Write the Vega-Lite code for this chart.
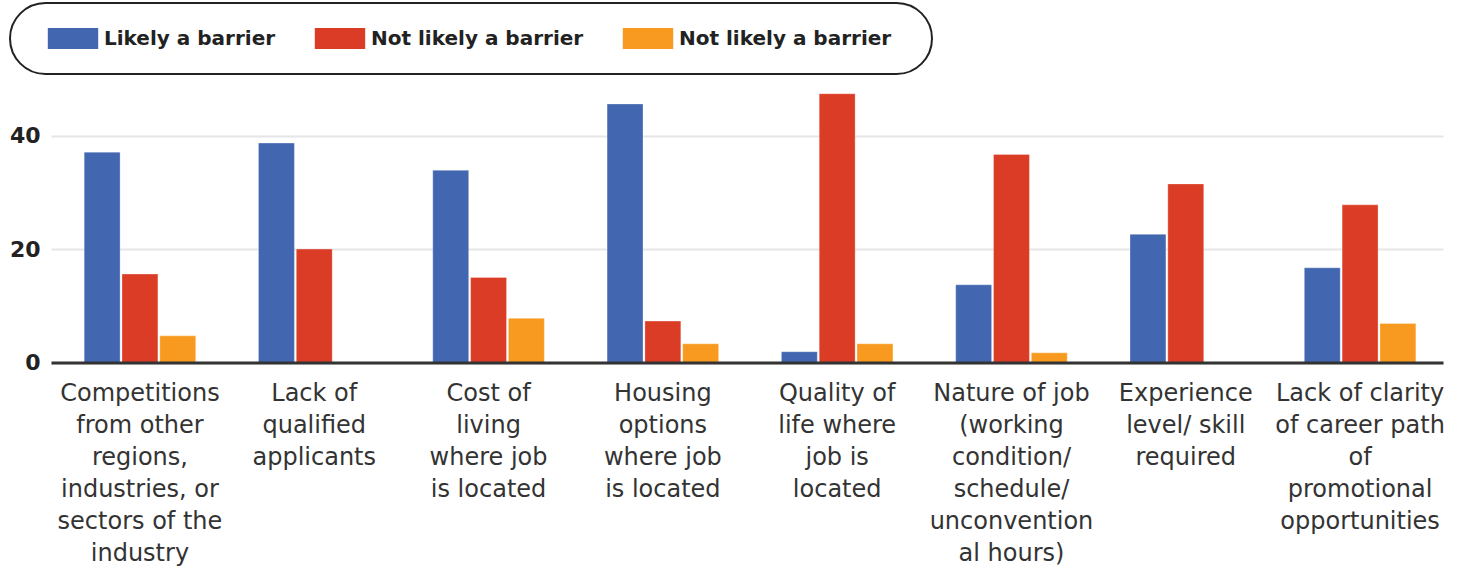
{
  "$schema": "https://vega.github.io/schema/vega-lite/v6.json",
  "width": 1392,
  "height": 283.5,
  "autosize": {"type": "none"},
  "padding": {"left": 51, "top": 79, "right": 27, "bottom": 207.5},
  "background": "white",
  "config": {"view": {"stroke": null}, "font": "DejaVu Sans", "legend": {"strokeWidth": 2}},
  "data": {
    "values": [
      {"barrier": "Competitions from other regions, industries, or sectors of the industry", "series": "Likely a barrier", "value": 37.1},
      {"barrier": "Competitions from other regions, industries, or sectors of the industry", "series": "Not likely a barrier", "value": 15.6},
      {"barrier": "Competitions from other regions, industries, or sectors of the industry", "series": "Not likely a barrier (2)", "value": 4.7},
      {"barrier": "Lack of qualified applicants", "series": "Likely a barrier", "value": 38.7},
      {"barrier": "Lack of qualified applicants", "series": "Not likely a barrier", "value": 20.0},
      {"barrier": "Lack of qualified applicants", "series": "Not likely a barrier (2)", "value": 0},
      {"barrier": "Cost of living where job is located", "series": "Likely a barrier", "value": 33.9},
      {"barrier": "Cost of living where job is located", "series": "Not likely a barrier", "value": 15.0},
      {"barrier": "Cost of living where job is located", "series": "Not likely a barrier (2)", "value": 7.8},
      {"barrier": "Housing options where job is located", "series": "Likely a barrier", "value": 45.6},
      {"barrier": "Housing options where job is located", "series": "Not likely a barrier", "value": 7.3},
      {"barrier": "Housing options where job is located", "series": "Not likely a barrier (2)", "value": 3.3},
      {"barrier": "Quality of life where job is located", "series": "Likely a barrier", "value": 1.9},
      {"barrier": "Quality of life where job is located", "series": "Not likely a barrier", "value": 47.4},
      {"barrier": "Quality of life where job is located", "series": "Not likely a barrier (2)", "value": 3.3},
      {"barrier": "Nature of job (working condition/ schedule/ unconventional hours)", "series": "Likely a barrier", "value": 13.7},
      {"barrier": "Nature of job (working condition/ schedule/ unconventional hours)", "series": "Not likely a barrier", "value": 36.7},
      {"barrier": "Nature of job (working condition/ schedule/ unconventional hours)", "series": "Not likely a barrier (2)", "value": 1.7},
      {"barrier": "Experience level/ skill required", "series": "Likely a barrier", "value": 22.6},
      {"barrier": "Experience level/ skill required", "series": "Not likely a barrier", "value": 31.5},
      {"barrier": "Experience level/ skill required", "series": "Not likely a barrier (2)", "value": 0},
      {"barrier": "Lack of clarity of career path of promotional opportunities", "series": "Likely a barrier", "value": 16.7},
      {"barrier": "Lack of clarity of career path of promotional opportunities", "series": "Not likely a barrier", "value": 27.8},
      {"barrier": "Lack of clarity of career path of promotional opportunities", "series": "Not likely a barrier (2)", "value": 6.9}
    ]
  },
  "mark": {"type": "bar", "stroke": "white", "strokeWidth": 0.5, "strokeOpacity": 0.6},
  "encoding": {
    "x": {
      "field": "barrier",
      "type": "nominal",
      "sort": null,
      "scale": {"paddingInner": 0.36, "paddingOuter": 0.173, "align": 0.55},
      "axis": {
        "title": null,
        "labelAngle": 0,
        "ticks": false,
        "domain": true,
        "domainColor": "#333333",
        "domainWidth": 3,
        "zindex": 1,
        "labelFont": "DejaVu Sans",
        "labelFontSize": 24,
        "labelColor": "#333333",
        "labelLineHeight": 32,
        "labelPadding": 19,
        "labelLimit": 400,
        "labelExpr": "{'Competitions from other regions, industries, or sectors of the industry': ['Competitions', 'from other', 'regions,', 'industries, or', 'sectors of the', 'industry'], 'Lack of qualified applicants': ['Lack of', 'qualified', 'applicants'], 'Cost of living where job is located': ['Cost of', 'living', 'where job', 'is located'], 'Housing options where job is located': ['Housing', 'options', 'where job', 'is located'], 'Quality of life where job is located': ['Quality of', 'life where', 'job is', 'located'], 'Nature of job (working condition/ schedule/ unconventional hours)': ['Nature of job', '(working', 'condition/', 'schedule/', 'unconvention', 'al hours)'], 'Experience level/ skill required': ['Experience', 'level/ skill', 'required'], 'Lack of clarity of career path of promotional opportunities': ['Lack of clarity', 'of career path', 'of', 'promotional', 'opportunities']}[datum.label]"
      }
    },
    "xOffset": {
      "field": "series",
      "type": "nominal",
      "sort": null,
      "scale": {"paddingInner": 0.05, "paddingOuter": 0}
    },
    "y": {
      "field": "value",
      "type": "quantitative",
      "scale": {"domain": [0, 50], "nice": false},
      "axis": {
        "title": null,
        "values": [0, 20, 40],
        "domain": false,
        "ticks": false,
        "gridColor": "#e6e6e6",
        "gridWidth": 2,
        "labelFont": "DejaVu Sans",
        "labelFontWeight": "bold",
        "labelFontSize": 22,
        "labelColor": "#222222",
        "labelPadding": 11
      }
    },
    "color": {
      "field": "series",
      "type": "nominal",
      "sort": null,
      "scale": {
        "domain": ["Likely a barrier", "Not likely a barrier", "Not likely a barrier (2)"],
        "range": ["#4267b0", "#db3c26", "#f89a1f"]
      },
      "legend": {
        "title": "\u00a0",
        "titleOrient": "left",
        "titleFontSize": 20,
        "titlePadding": 27.5,
        "orient": "none",
        "legendX": -41,
        "legendY": -76,
        "direction": "horizontal",
        "strokeColor": "#222222",
        "cornerRadius": 36,
        "padding": 25,
        "fillColor": "white",
        "symbolType": "M-2.4,-1H2.4V1H-2.4Z",
        "symbolSize": 441,
        "symbolStrokeWidth": 0,
        "symbolOpacity": 1,
        "labelFont": "DejaVu Sans",
        "labelFontWeight": "bold",
        "labelFontSize": 20,
        "labelColor": "#222222",
        "labelOffset": 20.5,
        "columnPadding": 39,
        "labelLimit": 400,
        "labelExpr": "datum.value == 'Not likely a barrier (2)' ? 'Not likely a barrier\u2800' : datum.label"
      }
    }
  }
}
